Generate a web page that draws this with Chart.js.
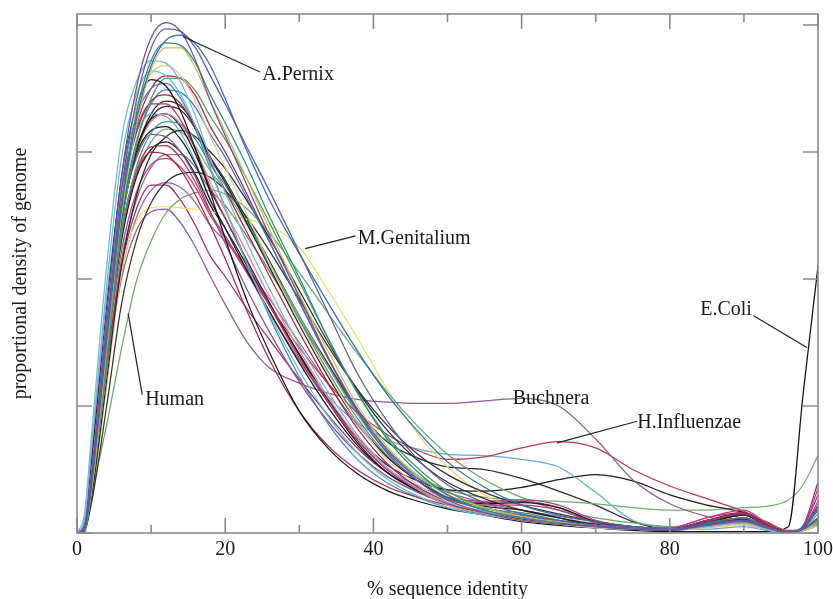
<!DOCTYPE html>
<html><head><meta charset="utf-8">
<script src="https://cdn.jsdelivr.net/npm/chart.js@4/dist/chart.umd.min.js"></script>
<style>html,body{margin:0;padding:0;background:#fff;}canvas{display:block;}</style>
</head><body>
<canvas id="c" width="833" height="599"></canvas>
<script>
// % sequence identity (shared x grid)
const identity = [0,1,2,4,6,8,10,12,14,16,18,20,23,26,30,34,38,42,46,50,55,60,65,70,75,80,85,90,93,96,98,100];
const xTickValues = [0,20,40,60,80,100];
const xMinorValues = [10,30,50,70,90];
const yTickValues = [0,1,2,3,4];

// proportional density of genome, one array per genome
const genome01 = [0,0.05,0.5,1.7,2.8,3.5,3.9,4.02,3.95,3.72,3.4,3.13,2.73,2.34,1.86,1.37,0.94,0.62,0.41,0.26,0.16,0.1,0.07,0.05,0.03,0.02,0.06,0.09,0.04,0.0,0.03,0.12];
const genome02 = [0,0.03,0.45,1.6,2.7,3.4,3.82,3.97,3.95,3.82,3.6,3.38,3.03,2.69,2.21,1.72,1.24,0.87,0.58,0.38,0.24,0.15,0.1,0.06,0.04,0.03,0.07,0.1,0.05,0.01,0.04,0.18];
const aPernix  = [0,0.02,0.4,1.5,2.55,3.25,3.68,3.88,3.92,3.85,3.68,3.42,3.0,2.62,2.2,1.8,1.42,1.08,0.8,0.56,0.36,0.22,0.14,0.09,0.05,0.03,0.06,0.1,0.05,0.01,0.05,0.2];
const genome04 = [0,0.02,0.4,1.55,2.6,3.3,3.72,3.86,3.84,3.7,3.45,3.23,2.88,2.49,2.01,1.52,1.09,0.73,0.48,0.3,0.18,0.12,0.08,0.05,0.03,0.02,0.08,0.12,0.05,0.0,0.03,0.1];
const genome05 = [0,0.02,0.35,1.45,2.5,3.2,3.65,3.82,3.82,3.66,3.4,3.16,2.78,2.39,1.88,1.42,0.99,0.67,0.45,0.3,0.2,0.13,0.09,0.06,0.04,0.03,0.06,0.09,0.04,0.0,0.02,0.08];
const genome06 = [0,0.15,0.8,2.1,3.1,3.55,3.72,3.7,3.55,3.28,2.95,2.68,2.28,1.92,1.48,1.1,0.76,0.51,0.35,0.24,0.17,0.12,0.08,0.05,0.03,0.02,0.05,0.08,0.03,0.0,0.02,0.1];
const genome07 = [0,0.03,0.5,1.7,2.75,3.35,3.62,3.68,3.6,3.4,3.12,2.88,2.5,2.12,1.66,1.24,0.86,0.57,0.38,0.25,0.16,0.1,0.07,0.04,0.03,0.02,0.04,0.07,0.03,0.0,0.02,0.06];
const genome08 = [0,0.1,0.7,1.95,2.95,3.45,3.64,3.6,3.45,3.2,2.88,2.56,2.11,1.72,1.28,0.91,0.62,0.42,0.29,0.2,0.14,0.1,0.07,0.04,0.03,0.02,0.05,0.08,0.03,0.0,0.02,0.09];
const genome09 = [0,0.05,0.55,1.75,2.8,3.35,3.57,3.52,3.32,3.02,2.68,2.32,1.82,1.42,0.96,0.66,0.46,0.33,0.25,0.19,0.14,0.09,0.06,0.04,0.03,0.02,0.06,0.1,0.04,0.0,0.02,0.08];
const genome10 = [0,0.02,0.35,1.35,2.4,3.05,3.42,3.58,3.58,3.48,3.28,3.1,2.78,2.44,1.98,1.52,1.09,0.75,0.51,0.33,0.2,0.13,0.08,0.05,0.03,0.02,0.05,0.08,0.03,0.0,0.02,0.08];
const genome11 = [0,0.03,0.45,1.6,2.6,3.15,3.4,3.45,3.38,3.18,2.92,2.7,2.36,2.02,1.58,1.17,0.81,0.54,0.36,0.24,0.16,0.11,0.07,0.05,0.03,0.02,0.07,0.12,0.05,0.0,0.03,0.12];
const genome12 = [0,0.02,0.4,1.5,2.5,3.08,3.38,3.49,3.47,3.35,3.14,2.96,2.63,2.29,1.82,1.37,0.96,0.64,0.43,0.28,0.18,0.12,0.08,0.05,0.03,0.02,0.05,0.09,0.04,0.0,0.02,0.07];
const genome13 = [0,0.06,0.6,1.75,2.7,3.18,3.38,3.38,3.25,3.02,2.72,2.48,2.13,1.79,1.38,1.02,0.72,0.49,0.35,0.26,0.22,0.22,0.18,0.08,0.04,0.03,0.1,0.15,0.06,0.0,0.05,0.3];
const genome14 = [0,0.02,0.4,1.5,2.45,3.0,3.27,3.36,3.33,3.18,2.95,2.76,2.43,2.09,1.64,1.22,0.86,0.59,0.41,0.28,0.21,0.18,0.12,0.05,0.03,0.02,0.08,0.14,0.06,0.0,0.03,0.1];
const genome15 = [0,0.03,0.45,1.55,2.48,3.0,3.24,3.3,3.22,3.02,2.76,2.54,2.2,1.86,1.44,1.06,0.74,0.5,0.34,0.22,0.15,0.1,0.07,0.04,0.03,0.02,0.05,0.08,0.03,0.0,0.02,0.06];
const genome16 = [0,0.02,0.38,1.42,2.35,2.88,3.15,3.24,3.22,3.1,2.9,2.74,2.44,2.12,1.68,1.26,0.89,0.6,0.41,0.27,0.19,0.16,0.1,0.04,0.03,0.02,0.06,0.1,0.04,0.0,0.02,0.08];
const genome17 = [0,0.04,0.5,1.6,2.5,2.98,3.17,3.2,3.1,2.9,2.62,2.4,2.06,1.74,1.34,0.98,0.68,0.47,0.34,0.26,0.23,0.24,0.2,0.09,0.04,0.03,0.1,0.15,0.06,0.0,0.03,0.12];
const genome18 = [0,0.04,0.5,1.6,2.5,2.95,3.14,3.12,3.0,2.8,2.53,2.28,1.91,1.58,1.19,0.87,0.62,0.44,0.32,0.23,0.17,0.12,0.08,0.05,0.03,0.02,0.07,0.12,0.05,0.0,0.04,0.25];
const genome19 = [0,0.03,0.45,1.5,2.35,2.82,3.0,2.98,2.86,2.66,2.42,2.16,1.74,1.36,0.96,0.68,0.49,0.36,0.28,0.22,0.17,0.12,0.09,0.06,0.04,0.03,0.1,0.16,0.07,0.0,0.04,0.2];
const genome20 = [0,0.02,0.3,1.2,2.1,2.65,2.98,3.12,3.17,3.12,3.0,2.87,2.61,2.32,1.91,1.49,1.11,0.8,0.57,0.4,0.27,0.18,0.12,0.07,0.04,0.03,0.07,0.11,0.05,0.0,0.02,0.08];
const genome21 = [0,0.03,0.42,1.4,2.22,2.68,2.9,2.95,2.88,2.72,2.5,2.32,2.04,1.74,1.36,1.02,0.72,0.5,0.37,0.28,0.25,0.26,0.22,0.1,0.05,0.04,0.12,0.18,0.08,0.0,0.05,0.35];
const genome22 = [0,0.02,0.25,1.0,1.8,2.3,2.6,2.76,2.83,2.84,2.8,2.7,2.48,2.22,1.84,1.46,1.12,0.84,0.62,0.46,0.32,0.22,0.15,0.09,0.05,0.03,0.08,0.12,0.05,0.0,0.02,0.1];
const human       = [0,0.0,0.3,0.85,1.45,1.98,2.3,2.52,2.63,2.68,2.7,2.67,2.55,2.36,2.05,1.72,1.4,1.1,0.84,0.62,0.42,0.28,0.18,0.12,0.08,0.05,0.07,0.1,0.05,0.01,0.04,0.15];
const mGenitalium = [0,0.02,0.3,1.15,2.05,2.45,2.56,2.57,2.56,2.55,2.53,2.51,2.47,2.42,2.25,1.9,1.52,1.12,0.78,0.52,0.3,0.18,0.12,0.08,0.05,0.03,0.04,0.06,0.03,0.0,0.02,0.06];
const buchnera    = [0,0.03,0.4,1.3,2.0,2.38,2.53,2.55,2.44,2.25,2.02,1.8,1.5,1.3,1.18,1.1,1.05,1.03,1.02,1.02,1.04,1.06,1.0,0.74,0.42,0.23,0.13,0.07,0.03,0.0,0.03,0.1];
const hInfluenzae = [0,0.03,0.45,1.5,2.38,2.85,3.04,3.05,2.95,2.76,2.52,2.34,2.06,1.79,1.46,1.17,0.94,0.77,0.65,0.58,0.6,0.67,0.72,0.67,0.5,0.37,0.27,0.17,0.09,0.02,0.03,0.1];
const genome27 = [0,0.08,0.65,1.85,2.75,3.15,3.3,3.28,3.15,2.92,2.62,2.4,2.06,1.74,1.36,1.07,0.86,0.73,0.66,0.62,0.61,0.58,0.52,0.32,0.1,0.04,0.03,0.05,0.02,0.0,0.02,0.08];
const genome28 = [0,0.03,0.42,1.45,2.3,2.8,3.02,3.08,3.0,2.82,2.58,2.4,2.1,1.79,1.41,1.04,0.74,0.53,0.41,0.34,0.33,0.36,0.42,0.46,0.41,0.3,0.22,0.16,0.08,0.01,0.02,0.06];
const eColi       = [0,0.03,0.45,1.55,2.5,3.02,3.26,3.3,3.2,2.98,2.7,2.48,2.14,1.81,1.4,1.02,0.7,0.47,0.33,0.23,0.16,0.11,0.07,0.04,0.02,0.01,0.01,0.01,0.01,0.05,1.1,2.1];
const genome30 = [0,0.02,0.38,1.4,2.3,2.82,3.08,3.18,3.16,3.04,2.85,2.7,2.42,2.12,1.71,1.3,0.92,0.63,0.45,0.34,0.28,0.26,0.25,0.23,0.2,0.18,0.18,0.2,0.21,0.26,0.38,0.61];
const genome31 = [0,0.02,0.4,1.5,2.45,3.0,3.3,3.4,3.36,3.2,2.96,2.78,2.46,2.14,1.71,1.32,0.96,0.71,0.59,0.52,0.5,0.43,0.33,0.22,0.09,0.03,0.08,0.14,0.06,0.0,0.02,0.08];
const genome32 = [0,0.04,0.45,1.35,2.1,2.55,2.74,2.74,2.62,2.42,2.18,2.02,1.76,1.52,1.21,0.92,0.66,0.47,0.35,0.27,0.24,0.25,0.2,0.08,0.04,0.04,0.12,0.16,0.07,0.0,0.06,0.4];
const genome33 = [0,0.02,0.35,1.3,2.15,2.62,2.88,2.98,2.98,2.88,2.7,2.58,2.33,2.06,1.68,1.3,0.94,0.65,0.45,0.3,0.2,0.14,0.1,0.07,0.05,0.03,0.06,0.09,0.04,0.0,0.02,0.07];
const genome34 = [0,0.03,0.4,1.3,2.05,2.48,2.7,2.76,2.72,2.6,2.42,2.3,2.08,1.84,1.5,1.16,0.84,0.59,0.43,0.32,0.24,0.18,0.13,0.09,0.05,0.03,0.07,0.11,0.05,0.0,0.04,0.2];
const genome35 = [0,0.05,0.55,1.75,2.75,3.28,3.5,3.54,3.42,3.18,2.86,2.56,2.11,1.7,1.23,0.85,0.57,0.39,0.28,0.2,0.15,0.11,0.08,0.05,0.03,0.02,0.05,0.09,0.04,0.0,0.02,0.06];
const genome36 = [0,0.02,0.4,1.55,2.6,3.2,3.5,3.6,3.58,3.44,3.2,3.0,2.66,2.29,1.82,1.36,0.96,0.65,0.45,0.3,0.2,0.14,0.09,0.06,0.04,0.03,0.09,0.14,0.06,0.0,0.04,0.22];

const seriesList = [genome01,genome02,aPernix,genome04,genome05,genome06,genome07,genome08,genome09,genome10,genome11,genome12,genome13,genome14,genome15,genome16,genome17,genome18,genome19,genome20,genome21,genome22,human,mGenitalium,buchnera,hInfluenzae,genome27,genome28,eColi,genome30,genome31,genome32,genome33,genome34,genome35,genome36];
const seriesColors = ['#7d4b9c','#5a5cab','#2f6fb5','#2a8c8c','#c9c24a','#74b7dc','#e2c98a','#5fc0d0','#151515','#4e9a5a','#b3243f','#3b7cc2','#b8337e','#222222','#e48a8a','#3a9a95','#1a1a1a','#8a4e9a','#a82848','#2a2a2a','#c03a8a','#333333','#6aa86a','#ecdf6a','#8e5a9e','#c0384e','#5aaee0','#1f1f1f','#111111','#6fb06f','#2b2b2b','#a62a6a','#777777','#9a62a8','#4a86c8','#b8204a'];

const notes = [
  {text:'A.Pernix', at:[25.0,3.61], line:[[14.3,3.91],[24.7,3.63]]},
  {text:'M.Genitalium', at:[37.9,2.32], line:[[30.8,2.24],[37.6,2.34]]},
  {text:'Human', at:[9.2,1.05], line:[[6.9,1.73],[8.8,1.09]]},
  {text:'Buchnera', at:[58.8,1.06], line:null},
  {text:'H.Influenzae', at:[75.6,0.87], line:[[64.8,0.71],[75.6,0.88]]},
  {text:'E.Coli', at:[84.1,1.76], line:[[91.3,1.71],[98.5,1.46]]}
];

const FONT = "'Liberation Serif', 'Times New Roman', serif";

const framePlugin = {
  id:'frameTicks',
  afterDatasetsDraw(chart){
    const {ctx, chartArea:a, scales:{x, y}} = chart;
    ctx.save();
    ctx.strokeStyle = '#8a8a8a';
    ctx.lineWidth = 1.6;
    ctx.strokeRect(a.left, a.top, a.right - a.left, a.bottom - a.top);
    ctx.beginPath();
    xTickValues.forEach(v => {
      const px = x.getPixelForValue(v);
      ctx.moveTo(px, a.bottom); ctx.lineTo(px, a.bottom - 15);
      ctx.moveTo(px, a.top); ctx.lineTo(px, a.top + 15);
    });
    xMinorValues.forEach(v => {
      const px = x.getPixelForValue(v);
      ctx.moveTo(px, a.bottom); ctx.lineTo(px, a.bottom - 8);
      ctx.moveTo(px, a.top); ctx.lineTo(px, a.top + 8);
    });
    yTickValues.forEach(v => {
      const py = y.getPixelForValue(v);
      ctx.moveTo(a.left, py); ctx.lineTo(a.left + 15, py);
      ctx.moveTo(a.right, py); ctx.lineTo(a.right - 15, py);
    });
    ctx.stroke();
    // annotations
    ctx.strokeStyle = '#222';
    ctx.lineWidth = 1.2;
    ctx.fillStyle = '#1a1a1a';
    ctx.font = '20px ' + FONT;
    ctx.textBaseline = 'middle';
    ctx.textAlign = 'left';
    notes.forEach(n => {
      if (n.line) {
        ctx.beginPath();
        ctx.moveTo(x.getPixelForValue(n.line[0][0]), y.getPixelForValue(n.line[0][1]));
        ctx.lineTo(x.getPixelForValue(n.line[1][0]), y.getPixelForValue(n.line[1][1]));
        ctx.stroke();
      }
      ctx.fillText(n.text, x.getPixelForValue(n.at[0]), y.getPixelForValue(n.at[1]));
    });
    ctx.restore();
  }
};

new Chart(document.getElementById('c'), {
  type:'line',
  data:{
    datasets: seriesList.map((ys, i) => ({
      data: identity.map((xv, j) => ({x: xv, y: ys[j]})),
      borderColor: seriesColors[i],
      borderWidth: 1.25,
      pointRadius: 0,
      fill: false,
      cubicInterpolationMode: 'monotone'
    }))
  },
  options:{
    responsive:false,
    animation:false,
    devicePixelRatio:1,
    layout:{padding:{top:14, right:15, left:0, bottom:0}},
    plugins:{legend:{display:false}, tooltip:{enabled:false}},
    scales:{
      x:{
        type:'linear', min:0, max:100,
        grid:{display:false}, border:{display:false},
        ticks:{stepSize:20, color:'#1a1a1a', font:{family:FONT, size:20}, padding:-3, maxRotation:0},
        title:{display:true, text:'% sequence identity', color:'#1a1a1a', font:{family:FONT, size:20}, padding:{top:0, bottom:-3}},
        afterFit(s){ s.height = 66; s.paddingLeft = 0; s.paddingRight = 0; }
      },
      y:{
        type:'linear', min:0, max:4.087,
        grid:{display:false}, border:{display:false},
        ticks:{display:false, stepSize:1},
        title:{display:true, text:'proportional density of genome', color:'#1a1a1a', font:{family:FONT, size:20}, padding:{top:9, bottom:0}},
        afterFit(s){ s.width = 77; }
      }
    }
  },
  plugins:[framePlugin]
});
</script>
</body></html>
